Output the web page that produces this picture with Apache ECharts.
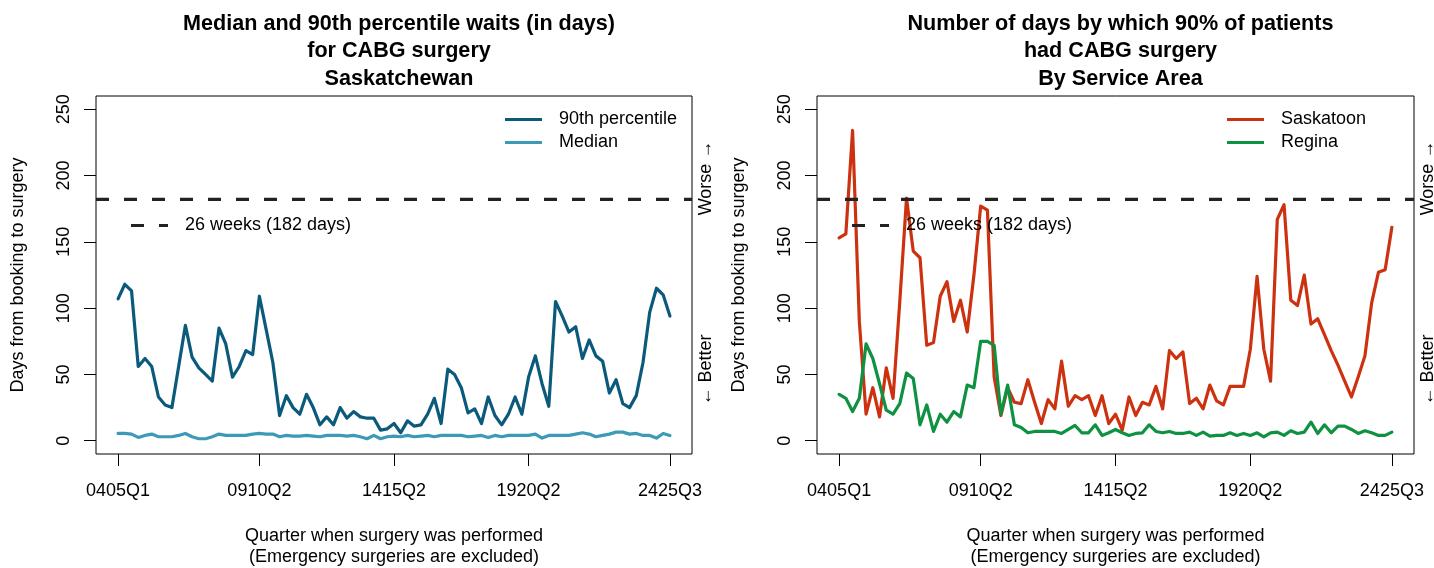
<!DOCTYPE html>
<html><head><meta charset="utf-8">
<script src="https://cdn.jsdelivr.net/npm/echarts@6/dist/echarts.min.js"></script>
<style>html,body{margin:0;padding:0;background:#fff}#c{width:1434px;height:568px}</style>
</head><body><div id="c"></div>
<script>
// ---- data ----
const fiscalYears = ['0405','0506','0607','0708','0809','0910','1011','1112','1213','1314','1415',
  '1516','1617','1718','1819','1920','2021','2122','2223','2324','2425'];
const quarters = [];
fiscalYears.forEach(fy => ['Q1','Q2','Q3','Q4'].forEach(q => quarters.push(fy + q)));
quarters.length = 83; // last quarter shown: 2425Q3

const xTickLabels = ['0405Q1','0910Q2','1415Q2','1920Q2','2425Q3'];
const yTicks = [0, 50, 100, 150, 200, 250];
const target = 182;

const p90 = [107,118,113,56,62,56,33,27,25,56,87,63,55,50,45,85,73,48,56,68,65,109,84,59,19,34,25,20,
  35,25,12,18,12,25,17,22,18,17,17,8,9,13,6,15,11,12,20,32,13,54,50,40,21,24,13,33,19,12,20,33,20,48,
  64,43,26,105,94,82,86,62,76,64,60,36,46,28,25,34,59,97,115,110,94];
const median = [5.5,5.5,5,2.5,4,5,3,3,3,4,5.5,3,1.5,1.5,3,5,4,4,4,4,5,5.5,5,5,3,4,3.5,3.5,
  4,3.5,3,4,4,4,3.5,4,3,1.5,4,1.5,3,3.5,3,4,3,3.5,4,3,4,4,4,4,3,3.5,
  4,2.5,4,3,4,4,4,4,5,2,4,4,4,4,5,6,5,3,4,5,6.5,6.5,5,5.5,4,4,2,5.5,4];
const saskatoon = [153,156,234,90,20,40,18,55,32,105,183,143,138,72,74,109,120,90,106,82,125,177,174,48,19,40,29,28,
  46,29,13,31,24,60,26,34,31,34,19,34,13,20,8,33,19,29,27,41,24,68,62,67,28,32,24,42,30,27,41,41,41,69,
  124,69,45,167,178,106,102,125,88,92,80,68,57,45,33,48,64,104,127,129,161];
const regina = [35,32,22,32,73,62,43,23,20,28,51,47,12,27,7,20,14,22,18,42,40,75,75,72,20,42,12,10,
  6,7,7,7,7,5.5,8.5,11.5,6,6,12,4,6,8.5,6,4,5.5,6,12,7,6,7,5.5,5.5,6.5,4,6.5,3.5,4,4,6,4,5.5,4,
  6,3,6,6.5,4,7.5,5.5,6.5,14,5.5,12,6,11,11,8.5,5.5,7.5,6,4,4,6.5];

// ---- chart ----
const FONT = '"Liberation Sans", Arial, Helvetica, sans-serif';
const xTickPos = xTickLabels.map(l => quarters.indexOf(l));
const XMIN = -0.04 * (quarters.length - 1), XMAX = (quarters.length - 1) * 1.04;
const txt = {color: '#000', fontFamily: FONT, fontSize: 18};
const dashIcon = 'path://M0,0H13V3H0Z M28,0H37V3H28Z';

const panels = [
  {left: 96, width: 596, title: 'Median and 90th percentile waits (in days)\nfor CABG surgery\nSaskatchewan',
   series: [{name: '90th percentile', data: p90, color: '#0B5A7C'}, {name: 'Median', data: median, color: '#3C9AB6'}]},
  {left: 817, width: 597, title: 'Number of days by which 90% of patients\nhad CABG surgery\nBy Service Area',
   series: [{name: 'Saskatoon', data: saskatoon, color: '#CC3210'}, {name: 'Regina', data: regina, color: '#0E9140'}]}
];

const option = {animation: false, backgroundColor: '#fff', title: [], grid: [], xAxis: [], yAxis: [], series: [], legend: [], graphic: []};

panels.forEach((p, g) => {
  option.title.push({text: p.title, left: p.left + p.width / 2, textAlign: 'center', top: 5,
    textStyle: {fontFamily: FONT, fontSize: 21.6, fontWeight: 'bold', color: '#000', lineHeight: 27.5}});
  option.grid.push({left: p.left, top: 96, width: p.width, height: 358, show: true,
    outerBoundsMode: 'none', containLabel: false,
    borderColor: '#000', borderWidth: 1, backgroundColor: 'transparent'});
  option.xAxis.push({gridIndex: g, type: 'value', min: XMIN, max: XMAX,
    axisLine: {show: false, onZero: false}, splitLine: {show: false},
    axisTick: {show: true, customValues: xTickPos, length: 12, lineStyle: {color: '#000', width: 1}},
    axisLabel: {customValues: xTickPos, formatter: v => quarters[Math.round(v)], margin: 28, ...txt},
    name: 'Quarter when surgery was performed\n(Emergency surgeries are excluded)',
    nameLocation: 'middle', nameGap: 72, nameTextStyle: {...txt, lineHeight: 21, verticalAlign: 'top'}});
  option.yAxis.push({gridIndex: g, type: 'value', min: -10, max: 260,
    axisLine: {show: false, onZero: false}, splitLine: {show: false},
    axisTick: {show: true, customValues: yTicks, length: 12, lineStyle: {color: '#000', width: 1}},
    axisLabel: {customValues: yTicks, rotate: 90, margin: 23, ...txt},
    name: 'Days from booking to surgery', nameLocation: 'middle', nameGap: 69, nameTextStyle: {...txt}});
  p.series.forEach(s => option.series.push({
    name: s.name, type: 'line', xAxisIndex: g, yAxisIndex: g, symbol: 'none', color: s.color,
    data: s.data.map((v, i) => [i, v]),
    lineStyle: {width: 3.2, color: s.color, cap: 'round', join: 'round'}}));
  const tName = g === 0 ? '26 weeks (182 days)' : '26 weeks (182 days) ';
  option.series.push({name: tName, type: 'line', xAxisIndex: g, yAxisIndex: g, symbol: 'none', color: '#222',
    data: [[XMIN, target], [XMAX, target]], silent: true,
    lineStyle: {width: 3.2, color: '#222', type: [13, 15]}});
  option.legend.push({data: p.series.map(s => s.name), orient: 'vertical', left: p.left + p.width - 187, top: 108,
    padding: 0, itemWidth: 37, itemHeight: 3.2, itemGap: 0, icon: 'rect', selectedMode: false,
    textStyle: {...txt, lineHeight: 23, padding: [0, 0, 0, 12]}});
  option.legend.push({data: [tName], orient: 'vertical', left: p.left + 35, top: 214,
    padding: 0, itemWidth: 37, itemHeight: 3.2, itemGap: 0, icon: dashIcon, selectedMode: false,
    formatter: n => n.trim(),
    textStyle: {...txt, lineHeight: 23, padding: [0, 0, 0, 12]}});
  const rx = p.left + p.width + 14;
  option.graphic.push({type: 'text', x: rx, y: 178, rotation: Math.PI / 2,
    style: {text: 'Worse \u2192', font: '18px ' + FONT, fill: '#000', align: 'center', verticalAlign: 'middle'}});
  option.graphic.push({type: 'text', x: rx, y: 370, rotation: Math.PI / 2,
    style: {text: '\u2190 Better', font: '18px ' + FONT, fill: '#000', align: 'center', verticalAlign: 'middle'}});
});

const chart = echarts.init(document.getElementById('c'), null, {renderer: 'canvas'});
chart.setOption(option);
</script>
</body></html>
